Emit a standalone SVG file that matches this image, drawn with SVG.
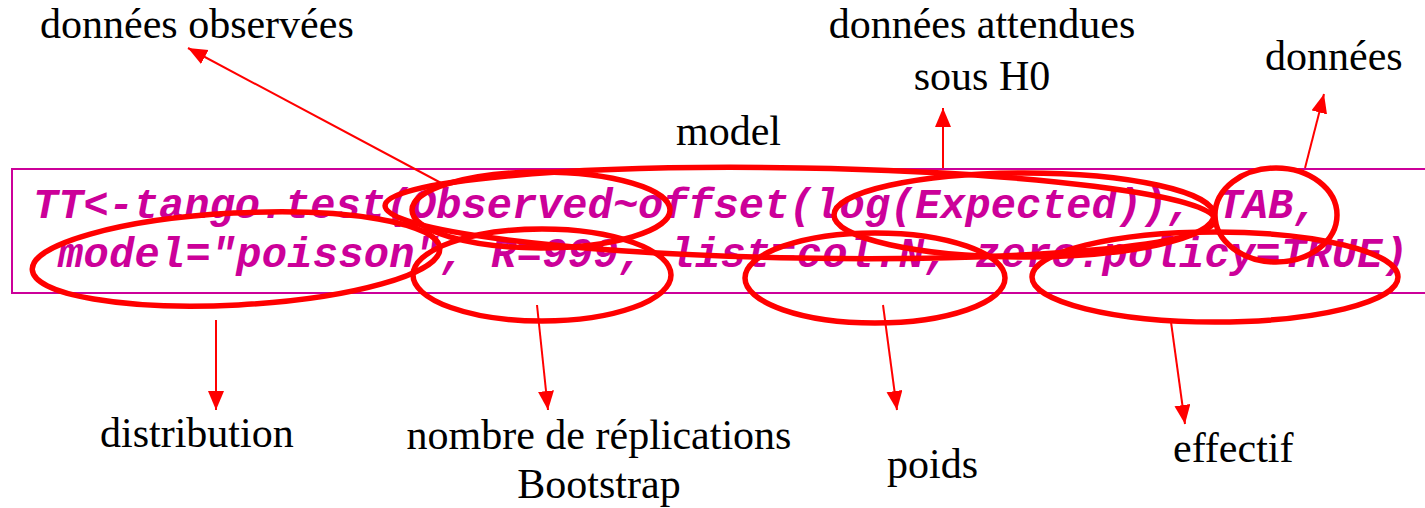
<svg xmlns="http://www.w3.org/2000/svg" width="1425" height="508" viewBox="0 0 1425 508">
  <style>
    .code { font-family: "Liberation Mono", "Courier New", monospace; font-weight: bold; font-style: italic; font-size: 42px; fill: #CC0099; }
    .lbl { font-family: "Liberation Serif", "Times New Roman", serif; font-size: 42px; fill: #000000; }
    .ring { fill: none; stroke: #FF0000; stroke-width: 5.5; }
    .arrow { fill: none; stroke: #FF0000; stroke-width: 2; marker-end: url(#head); }
  </style>
  <defs>
    <marker id="head" markerUnits="userSpaceOnUse" markerWidth="22" markerHeight="18" refX="19" refY="8" orient="auto">
      <path d="M0,0 L19,8 L0,16 Z" fill="#FF0000"/>
    </marker>
  </defs>
  <rect width="1425" height="508" fill="#FFFFFF"/>

  <!-- code box -->
  <g id="code">
    <rect x="12" y="169" width="1430" height="124" fill="none" stroke="#CC0099" stroke-width="2"/>
    <text class="code" x="33" y="218">TT&lt;-tango.test(Observed~offset(log(Expected)), TAB,</text>
    <text class="code" x="58" y="267" textLength="1350" lengthAdjust="spacing">model="poisson", R=999, list=col.N, zero.policy=TRUE)</text>
  </g>

  <!-- highlighted arguments -->
  <g id="rings">
    <ellipse id="ring-observed" class="ring" cx="541" cy="210" rx="129" ry="38"/>
    <ellipse id="ring-model" class="ring" cx="800" cy="213" rx="415" ry="45" transform="rotate(1 800 213)"/>
    <ellipse id="ring-expected" class="ring" cx="1024" cy="215" rx="190" ry="42"/>
    <ellipse id="ring-tab" class="ring" cx="1276" cy="215" rx="61" ry="47"/>
    <ellipse id="ring-poisson" class="ring" cx="236" cy="259" rx="204" ry="46" transform="rotate(-3 236 259)"/>
    <ellipse id="ring-r" class="ring" cx="542" cy="275" rx="129" ry="46"/>
    <ellipse id="ring-list" class="ring" cx="875" cy="278" rx="130" ry="45"/>
    <ellipse id="ring-zero" class="ring" cx="1215" cy="277" rx="183" ry="45"/>
  </g>

  <!-- connectors -->
  <g id="connectors">
    <line class="arrow" x1="443" y1="184" x2="188" y2="48"/>
    <line class="arrow" x1="943" y1="168" x2="943" y2="108"/>
    <line class="arrow" x1="1305" y1="168" x2="1324" y2="94"/>
    <line class="arrow" x1="216" y1="320" x2="216" y2="410"/>
    <line class="arrow" x1="537" y1="305" x2="548" y2="410"/>
    <line class="arrow" x1="883" y1="305" x2="897" y2="410"/>
    <line class="arrow" x1="1171" y1="322" x2="1185" y2="424"/>
  </g>

  <!-- labels -->
  <g id="label-observees"><text class="lbl" x="40" y="38">données observées</text></g>
  <g id="label-attendues">
    <text class="lbl" x="982" y="38" text-anchor="middle">données attendues</text>
    <text class="lbl" x="982" y="90" text-anchor="middle">sous H0</text>
  </g>
  <g id="label-donnees"><text class="lbl" x="1265" y="70">données</text></g>
  <g id="label-model"><text class="lbl" x="676" y="145">model</text></g>
  <g id="label-distribution"><text class="lbl" x="100" y="447">distribution</text></g>
  <g id="label-replications">
    <text class="lbl" x="599" y="449" text-anchor="middle">nombre de réplications</text>
    <text class="lbl" x="599" y="498" text-anchor="middle">Bootstrap</text>
  </g>
  <g id="label-poids"><text class="lbl" x="887" y="478">poids</text></g>
  <g id="label-effectif"><text class="lbl" x="1173" y="462">effectif</text></g>
</svg>
